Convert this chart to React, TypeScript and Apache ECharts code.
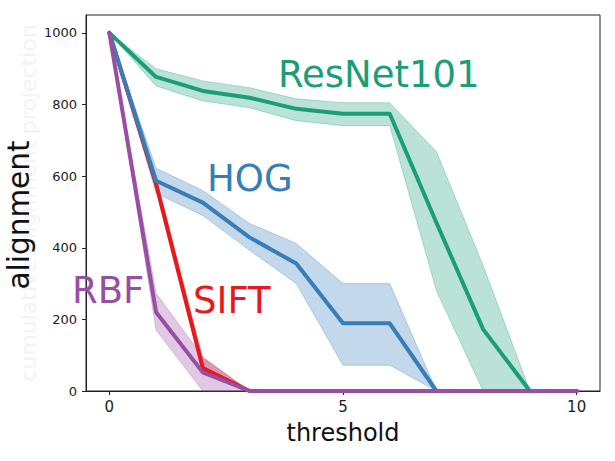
import React, { useEffect, useRef } from "react";
import * as echarts from "echarts";

const thresholds = [0, 1, 2, 3, 4, 5, 6, 7, 8, 9, 10];

const resnetMean = [1000, 877, 838, 819, 788, 774, 774, 470, 172, 0, 0];
const resnetLow = [1000, 852, 810, 791, 755, 741, 741, 280, 0, 0, 0];
const resnetHigh = [1000, 900, 866, 847, 816, 805, 805, 668, 350, 0, 0];

const hogMean = [1000, 587, 526, 429, 356, 189, 189, 0, 0, 0, 0];
const hogLow = [1000, 552, 490, 393, 300, 72, 72, 0, 0, 0, 0];
const hogHigh = [1000, 622, 560, 468, 412, 300, 300, 0, 0, 0, 0];

const siftMean = [1000, 578, 64, 0, 0, 0, 0, 0, 0, 0, 0];
const siftLow = [1000, 560, 48, 0, 0, 0, 0, 0, 0, 0, 0];
const siftHigh = [1000, 596, 92, 0, 0, 0, 0, 0, 0, 0, 0];

const rbfMean = [1000, 220, 52, 0, 0, 0, 0, 0, 0, 0, 0];
const rbfLow = [1000, 170, 0, 0, 0, 0, 0, 0, 0, 0, 0];
const rbfHigh = [1000, 273, 95, 0, 0, 0, 0, 0, 0, 0, 0];

const xTicks = [0, 5, 10];
const yTicks = [0, 200, 400, 600, 800, 1000];

const methods = [
  { name: "ResNet101", color: "#1b9e77", band: "rgba(27,158,119,0.3)", mean: resnetMean, low: resnetLow, high: resnetHigh },
  { name: "SIFT", color: "#e41a1c", band: "rgba(228,26,28,0.3)", mean: siftMean, low: siftLow, high: siftHigh },
  { name: "HOG", color: "#377eb8", band: "rgba(55,126,184,0.3)", mean: hogMean, low: hogLow, high: hogHigh },
  { name: "RBF", color: "#984ea3", band: "rgba(152,78,163,0.3)", mean: rbfMean, low: rbfLow, high: rbfHigh },
];

const FONT = "'DejaVu Sans', sans-serif";

export default function App() {
  const ref = useRef<HTMLDivElement>(null);
  useEffect(() => {
    if (!ref.current) return;
    const chart = echarts.init(ref.current, undefined, { renderer: "svg" });
    const series: any[] = [];
    methods.forEach((m) => {
      const bandData = thresholds.map((x, i) => [x, m.low[i], m.high[i]]);
      series.push({
        type: "custom",
        name: m.name + "-band",
        data: bandData,
        silent: true,
        encode: { x: 0, y: [1, 2] },
        renderItem: (params: any, api: any) => {
          if (params.dataIndex !== 0) return null;
          const upper = bandData.map((d) => api.coord([d[0], d[2]]));
          const lower = bandData.map((d) => api.coord([d[0], d[1]])).reverse();
          return {
            type: "polygon",
            shape: { points: upper.concat(lower) },
            style: { fill: m.band, stroke: m.band, lineWidth: 1 },
          };
        },
      });
      series.push({
        type: "line",
        name: m.name,
        data: thresholds.map((x, i) => [x, m.mean[i]]),
        symbol: "none",
        lineStyle: { width: 4, color: m.color, join: "round", cap: "round" },
        silent: true,
      });
    });

    const labelTexts = [
      { text: "ResNet101", x: 278, y: 74, color: "#1b9e77" },
      { text: "HOG", x: 207, y: 178, color: "#377eb8" },
      { text: "SIFT", x: 193, y: 300, color: "#e41a1c" },
      { text: "RBF", x: 72, y: 290, color: "#984ea3" },
    ];

    chart.setOption({
      animation: false,
      grid: {
        left: 86,
        right: 15,
        top: 15,
        bottom: 70,
        show: true,
        borderColor: "#222",
        borderWidth: 1,
        backgroundColor: "transparent",
      },
      xAxis: {
        type: "value",
        min: -0.5,
        max: 10.5,
        splitLine: { show: false },
        axisLine: { show: true, onZero: false, lineStyle: { color: "#222", width: 1 } },
        axisTick: { show: true, length: 4, lineStyle: { color: "#222" }, customValues: xTicks },
        axisLabel: { customValues: xTicks, fontSize: 15, color: "#222", fontFamily: FONT, margin: 8, formatter: (v: number) => String(v) },
      },
      yAxis: {
        type: "value",
        min: 0,
        max: 1050,
        splitLine: { show: false },
        axisLine: { show: true, onZero: false, lineStyle: { color: "#222", width: 1 } },
        axisTick: { show: true, length: 4, lineStyle: { color: "#222" }, customValues: yTicks },
        axisLabel: { customValues: yTicks, fontSize: 13, color: "#222", fontFamily: FONT, margin: 9, formatter: (v: number) => String(v) },
      },
      series,
      graphic: [
        {
          type: "text",
          x: 28,
          y: 203,
          rotation: Math.PI / 2,
          style: {
            text: "cumulative alignment projection",
            fill: "#f3f3f3",
            font: "22px " + FONT,
            textAlign: "center",
            textVerticalAlign: "middle",
          },
          z: 1,
        },
        {
          type: "text",
          x: 19,
          y: 215,
          rotation: Math.PI / 2,
          style: {
            text: "alignment",
            fill: "#111",
            font: "29.5px " + FONT,
            textAlign: "center",
            textVerticalAlign: "middle",
          },
          z: 2,
        },
        {
          type: "text",
          x: 343,
          y: 433,
          style: {
            text: "threshold",
            fill: "#111",
            font: "24px " + FONT,
            textAlign: "center",
            textVerticalAlign: "middle",
          },
        },
        ...labelTexts.map((t) => ({
          type: "text",
          x: t.x,
          y: t.y,
          z: 100,
          style: {
            text: t.text,
            fill: t.color,
            font: "37px " + FONT,
            textAlign: "left",
            textVerticalAlign: "middle",
          },
        })),
      ],
    });
    return () => chart.dispose();
  }, []);
  return (
    <div
      ref={ref}
      style={{ position: "absolute", left: 0, top: 0, width: 615, height: 461, background: "#fff" }}
    />
  );
}
